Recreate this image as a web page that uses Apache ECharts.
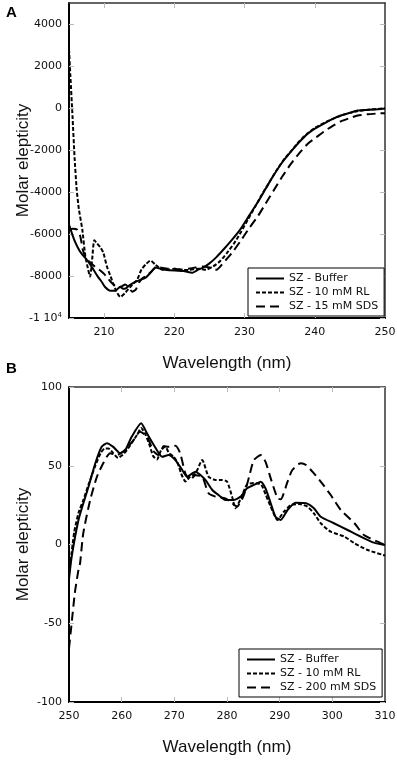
<!DOCTYPE html>
<html>
<head>
<meta charset="utf-8">
<script src="https://cdn.jsdelivr.net/npm/echarts@6/dist/echarts.min.js"></script>
<style>
  html, body { margin: 0; padding: 0; background: #fff; }
  #chart { width: 397px; height: 760px; }
</style>
</head>
<body>
<div id="chart"></div>
<script>
// ---- panel A : far-UV (205-250 nm) ----
var aBufNm = [205, 205.5, 205.9, 206.5, 206.9, 207.6, 208.3, 209.1, 209.6, 210.1, 210.9, 211.6, 212.3, 212.7, 213.2, 213.7, 214.3, 214.9, 215.9, 216.6, 217.3, 218, 218.7, 220.1, 221.3, 222.6, 223.4, 224.1, 225, 226, 227, 228.2, 229.4, 230.6, 231.9, 233, 234.1, 235.3, 236.6, 237.8, 239, 240.2, 241.3, 242.5, 243.7, 245, 246.1, 247.3, 248.4, 250];
var aBufVal = [-5550, -6050, -6400, -6800, -6980, -7250, -7600, -8030, -8250, -8510, -8700, -8700, -8510, -8610, -8560, -8420, -8300, -8220, -8080, -7850, -7600, -7650, -7700, -7740, -7760, -7840, -7700, -7600, -7400, -7100, -6740, -6280, -5780, -5150, -4480, -3850, -3230, -2620, -2080, -1620, -1220, -950, -740, -530, -360, -230, -120, -90, -70, -20];

var aRlNm = [205, 205.2, 205.5, 205.8, 206.1, 206.4, 206.9, 207.3, 207.6, 208, 208.3, 208.6, 209, 209.5, 209.9, 210.4, 211.1, 211.7, 212.3, 213, 214, 214.7, 215.3, 215.9, 216.6, 217.3, 218.3, 219.2, 220.1, 221, 222, 223.4, 224.5, 225.5, 226.5, 227.5, 228.5, 229.5, 230.5, 231.5, 232.5, 233.5, 234.5, 235.5, 236.5, 237.5, 238.5, 240, 242, 244, 246, 248, 250];
var aRlVal = [2800, 1500, -400, -2400, -3900, -4800, -5800, -7000, -7500, -8030, -7200, -6300, -6450, -6650, -6900, -7550, -8180, -8700, -9000, -8800, -8420, -8180, -7700, -7460, -7260, -7460, -7700, -7700, -7650, -7700, -7720, -7650, -7700, -7550, -7300, -6900, -6450, -5900, -5300, -4700, -4100, -3550, -3000, -2500, -2100, -1700, -1350, -950, -600, -330, -150, -70, -20];

var aSdsNm = [205, 205.5, 206.2, 206.6, 207, 207.5, 208, 208.5, 209, 209.5, 210, 210.5, 211, 211.5, 212, 212.5, 213, 213.5, 214, 214.5, 215, 215.5, 216, 217, 217.5, 218, 219, 220, 221, 222, 223, 224, 225, 226, 227, 228.2, 229.4, 230.6, 231.9, 233, 234.1, 235.3, 236.6, 237.8, 239, 240.2, 241.3, 242.5, 243.7, 245, 246.1, 247.5, 249, 250];
var aSdsVal = [-5800, -5750, -5800, -6100, -6800, -7200, -7350, -7500, -7650, -7750, -7900, -8100, -8300, -8450, -8550, -8500, -8400, -8550, -8750, -8650, -8300, -8100, -8000, -7700, -7550, -7600, -7650, -7650, -7700, -7650, -7600, -7550, -7600, -7700, -7360, -6900, -6350, -5750, -5150, -4550, -3950, -3300, -2660, -2150, -1700, -1400, -1120, -860, -640, -480, -360, -300, -260, -250];

var aXTicks = [210, 220, 230, 240, 250];
var aYTicks = [-10000, -8000, -6000, -4000, -2000, 0, 2000, 4000];
var aNames = ['SZ - Buffer', 'SZ - 10 mM RL', 'SZ - 15 mM SDS'];

// ---- panel B : near-UV (250-310 nm) ----
var bBufNm = [250, 250.5, 251.8, 252.8, 253.7, 255, 256.2, 257.2, 258.4, 259.7, 260.7, 261.9, 263.7, 264.8, 266.1, 267.7, 268.9, 270.2, 271.5, 272.4, 274, 275, 275.9, 277.2, 278.4, 279.7, 281.3, 282.6, 283.8, 285.1, 286.4, 287.3, 288.3, 289.2, 290.2, 291.5, 293, 295, 296.5, 297.8, 300.3, 302.9, 305.4, 307.9, 310];
var bBufVal = [-22, -8, 15.5, 27, 36.7, 51.6, 62, 64.3, 62, 58, 60, 68.4, 77, 70.6, 63.2, 55.7, 56.8, 53.6, 47.3, 43, 46.2, 44, 41, 34.6, 31.4, 28.3, 28.3, 30.4, 35.7, 37.8, 39.9, 35.7, 26.2, 17.6, 15.6, 21.9, 26.5, 26.2, 23, 17.6, 13.5, 9.2, 5, 1.2, -0.3];

var bRlNm = [250, 250.5, 251, 251.8, 252.7, 253.7, 255, 256, 256.8, 257.5, 258.4, 259.3, 260.2, 261, 262, 263, 263.7, 264.5, 265.3, 266, 266.7, 267.5, 268.3, 269, 269.8, 270.6, 271.3, 272.1, 273, 274, 275.3, 276.5, 277.8, 279, 280, 281, 281.6, 282.6, 283.8, 285.1, 286.5, 287.3, 288.3, 289.6, 290.8, 292.1, 293.7, 295.3, 296.5, 297.8, 299.7, 302.3, 304.2, 306.7, 310];
var bRlVal = [-18, -5, 8, 20, 28, 38, 50, 58, 61, 61, 58, 55, 57, 60, 65, 70, 74, 70, 63, 56, 54, 60, 62, 58, 56, 52, 45, 40, 43, 45, 53.6, 43, 41, 41, 40, 30, 23, 29, 38, 39, 38, 32, 24, 15.6, 20.8, 25, 25.7, 24, 19.8, 13.5, 8.1, 5, 0.8, -3.5, -7];

var bSdsNm = [250, 250.5, 251.1, 251.8, 252.1, 252.7, 254, 255.3, 256.5, 257.8, 259.1, 260.3, 262.2, 263.5, 264.8, 266.1, 267, 268, 268.9, 270.2, 271.1, 272.1, 273, 274, 275.3, 276.5, 277.8, 279.7, 280.7, 281.9, 283.2, 284.2, 285.1, 286.4, 287.3, 288.3, 289.6, 290.2, 291.5, 292.4, 294, 295, 296.5, 297.8, 299.7, 301.6, 304.2, 306, 308.6, 310];
var bSdsVal = [-66, -50, -31, -16, -12, 7, 28, 43, 51.6, 58, 56.8, 59, 66, 71.6, 68.4, 59, 56.8, 62.5, 62, 62.7, 58, 45, 41, 44, 43, 32.5, 30.4, 29.3, 27, 24, 31.4, 43, 53.6, 56.8, 52.6, 42, 29.3, 28.7, 39.9, 47.3, 51.6, 50.5, 45.2, 39.9, 31.4, 21.9, 13.5, 6, 1.8, -0.3];

var bXTicks = [250, 260, 270, 280, 290, 300, 310];
var bYTicks = [-100, -50, 0, 50, 100];
var bNames = ['SZ - Buffer', 'SZ - 10 mM RL', 'SZ - 200 mM SDS'];

var pair = function (xs, ys) {
    var out = [];
    for (var i = 0; i < xs.length; i++) {
        out.push([xs[i], ys[i]]);
    }
    return out;
};

var tickFont = 'DejaVu Sans';
var titleFont = 'Liberation Sans';

var lineStyles = [
    {type: 'solid', width: 2},
    {type: [4, 2], width: 2},
    {type: [9, 5], width: 2}
];

// bottom/left axes carry labels, top/right ones only mirror the ticks
var makeX = function (grid, min, max, ticks, labelTicks, pos) {
    var main = pos === 'bottom';
    return {
        type: 'value', gridIndex: grid, position: pos, min: min, max: max,
        name: main ? 'Wavelength (nm)' : '',
        nameLocation: 'middle', nameGap: 37, nameMoveOverlap: false,
        nameTextStyle: {fontFamily: titleFont, fontSize: 17, color: '#111'},
        axisLine: {show: true, onZero: false, lineStyle: {color: main ? '#000' : '#333', width: main ? 2 : 1.5}},
        axisTick: {show: true, inside: true, length: 5, customValues: ticks, lineStyle: {color: '#bbb', width: 1}},
        axisLabel: {show: main, customValues: labelTicks, margin: 9, fontFamily: tickFont, fontSize: 11, color: '#111'},
        splitLine: {show: false}
    };
};

var makeY = function (grid, min, max, ticks, pos, fmt) {
    var main = pos === 'left';
    return {
        type: 'value', gridIndex: grid, position: pos, min: min, max: max,
        name: main ? 'Molar elepticity' : '',
        nameLocation: 'middle', nameGap: 37, nameMoveOverlap: false,
        nameTextStyle: {fontFamily: titleFont, fontSize: 17, color: '#111'},
        axisLine: {show: true, onZero: false, lineStyle: {color: main ? '#000' : '#333', width: main ? 2 : 1.5}},
        axisTick: {show: true, inside: true, length: 5, customValues: ticks, lineStyle: {color: '#bbb', width: 1}},
        axisLabel: {
            show: main, customValues: ticks, margin: 7, fontFamily: tickFont, fontSize: 11, color: '#111',
            formatter: fmt,
            rich: {
                n: {fontFamily: tickFont, fontSize: 11, color: '#111'},
                s: {fontFamily: tickFont, fontSize: 7, color: '#111', verticalAlign: 'top', padding: [0, 0, 6, 0]}
            }
        },
        splitLine: {show: false}
    };
};

var aYFmt = function (v) {
    if (v === -10000) return '{n|-1 10}{s|4}';
    return String(v);
};

var makeSeries = function (name, data, idx, xi, yi) {
    return {
        name: name, type: 'line', xAxisIndex: xi, yAxisIndex: yi,
        data: data, symbol: 'none', smooth: 0.2,
        lineStyle: {color: '#000', type: lineStyles[idx].type, width: lineStyles[idx].width},
        itemStyle: {color: '#000'},
        z: 3 - idx
    };
};

var makeLegend = function (names, left, top) {
    return {
        data: names, orient: 'vertical', align: 'left',
        left: left, top: top,
        itemWidth: 28, itemHeight: 10, itemGap: 3,
        padding: [5, 6, 4, 7],
        borderColor: '#000', borderWidth: 1, backgroundColor: '#fff',
        selectedMode: false,
        itemStyle: {opacity: 0},
        textStyle: {fontFamily: tickFont, fontSize: 11, color: '#111'}
    };
};

var chart = echarts.init(document.getElementById('chart'));

var option = {
    animation: false,
    backgroundColor: '#fff',
    title: [
        {text: 'A', left: 6, top: 5, padding: 0, textStyle: {fontFamily: titleFont, fontSize: 15, fontWeight: 'bold', color: '#000'}},
        {text: 'B', left: 6, top: 361, padding: 0, textStyle: {fontFamily: titleFont, fontSize: 15, fontWeight: 'bold', color: '#000'}}
    ],
    grid: [
        {left: 69, right: 12, top: 3, height: 315, containLabel: false, outerBoundsMode: 'none'},
        {left: 69, right: 12, top: 387, height: 315, containLabel: false, outerBoundsMode: 'none'}
    ],
    xAxis: [
        makeX(0, 205, 250, [210, 220, 230, 240], aXTicks, 'bottom'),
        makeX(0, 205, 250, [210, 220, 230, 240], aXTicks, 'top'),
        makeX(1, 250, 310, [260, 270, 280, 290, 300], bXTicks, 'bottom'),
        makeX(1, 250, 310, [260, 270, 280, 290, 300], bXTicks, 'top')
    ],
    yAxis: [
        makeY(0, -10000, 5000, aYTicks, 'left', aYFmt),
        makeY(0, -10000, 5000, aYTicks, 'right', aYFmt),
        makeY(1, -100, 100, bYTicks, 'left', null),
        makeY(1, -100, 100, bYTicks, 'right', null)
    ],
    legend: [
        makeLegend(aNames, 248, 268),
        makeLegend(bNames, 239, 649)
    ],
    series: [
        makeSeries(aNames[0], pair(aBufNm, aBufVal), 0, 0, 0),
        makeSeries(aNames[1], pair(aRlNm, aRlVal), 1, 0, 0),
        makeSeries(aNames[2], pair(aSdsNm, aSdsVal), 2, 0, 0),
        makeSeries(bNames[0], pair(bBufNm, bBufVal), 0, 2, 2),
        makeSeries(bNames[1], pair(bRlNm, bRlVal), 1, 2, 2),
        makeSeries(bNames[2], pair(bSdsNm, bSdsVal), 2, 2, 2)
    ]
};

chart.setOption(option);
</script>
</body>
</html>
